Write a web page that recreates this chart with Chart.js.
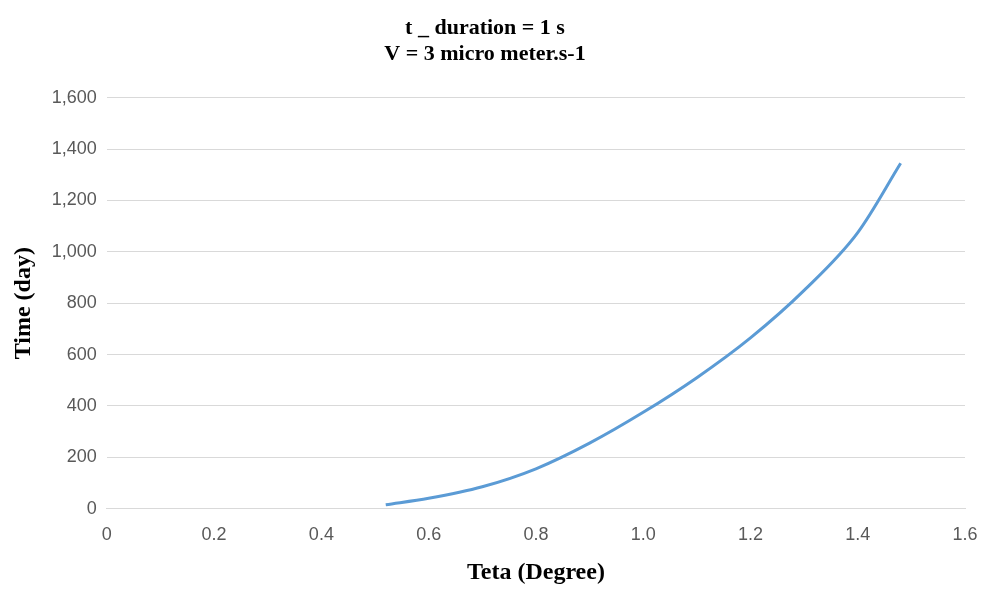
<!DOCTYPE html>
<html lang="en">
<head>
<meta charset="UTF-8">
<title>Time vs Teta</title>
<script src="https://cdn.jsdelivr.net/npm/chart.js"></script>
<style>
    body { margin: 0; background: #ffffff; }
</style>
</head>
<body>
<canvas id="c" width="1000" height="596"></canvas>
<script>
    const tetaValues = [0.52, 0.6, 0.7, 0.8, 0.9, 1.0, 1.1, 1.2, 1.3, 1.4, 1.48];
    const timeValues = [15, 40, 85, 155, 255, 375, 510, 665, 850, 1075, 1345];
    const xTicks = [0, 0.2, 0.4, 0.6, 0.8, 1, 1.2, 1.4, 1.6];

    const points = tetaValues.map((x, i) => ({ x: x, y: timeValues[i] }));

    new Chart(document.getElementById('c'), {
        type: 'scatter',
        data: {
            datasets: [{
                data: points,
                showLine: true,
                borderColor: '#5b9bd5',
                borderWidth: 3,
                pointRadius: 0,
                cubicInterpolationMode: 'monotone'
            }]
        },
        options: {
            responsive: false,
            animation: false,
            layout: { padding: { left: 5, right: 35, top: 10, bottom: 5 } },
            plugins: {
                legend: { display: false },
                tooltip: { enabled: false },
                title: {
                    display: true,
                    text: ['t _ duration = 1 s', 'V = 3 micro meter.s-1'],
                    color: '#000',
                    font: { family: 'Liberation Serif', size: 22, weight: 'bold' },
                    padding: { top: 5, bottom: 30 }
                }
            },
            scales: {
                x: {
                    type: 'linear',
                    min: 0, max: 1.6,
                    afterBuildTicks: ax => { ax.ticks = xTicks.map(v => ({ value: v })); },
                    grid: { display: false },
                    border: { color: '#d9d9d9' },
                    ticks: { color: '#595959', font: { family: 'Liberation Sans', size: 18 }, padding: 8 },
                    title: {
                        display: true, text: 'Teta (Degree)', color: '#000',
                        font: { family: 'Liberation Serif', size: 24, weight: 'bold' }
                    }
                },
                y: {
                    min: 0, max: 1600,
                    ticks: { stepSize: 200, color: '#595959', font: { family: 'Liberation Sans', size: 18 }, padding: 10 },
                    grid: { color: '#d9d9d9', drawTicks: false },
                    border: { display: false },
                    title: {
                        display: true, text: 'Time (day)', color: '#000',
                        font: { family: 'Liberation Serif', size: 24, weight: 'bold' }
                    }
                }
            }
        }
    });
</script>
</body>
</html>
